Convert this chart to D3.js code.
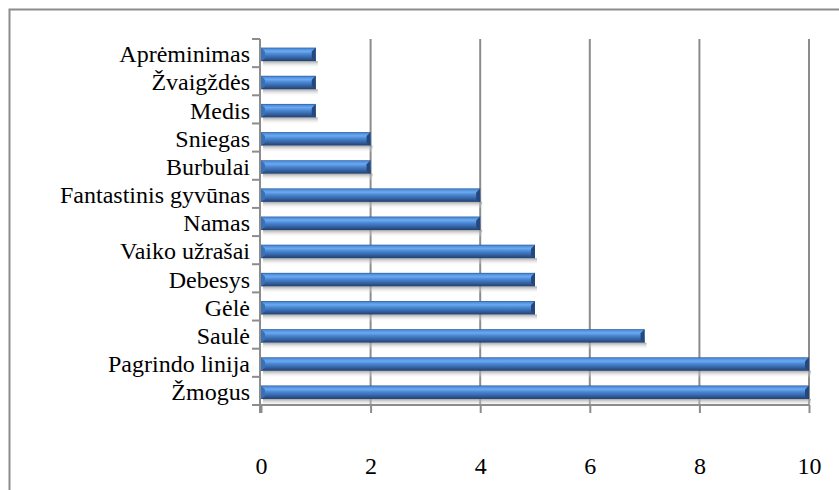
<!DOCTYPE html>
<html>
<head>
<meta charset="utf-8">
<script src="https://cdn.jsdelivr.net/npm/d3@7"></script>
<style>
  body { margin: 0; background: #fff; }
</style>
</head>
<body>
<script>
// categories top to bottom, as in the chart
var categories = ["Aprėminimas", "Žvaigždės", "Medis", "Sniegas", "Burbulai",
  "Fantastinis gyvūnas", "Namas", "Vaiko užrašai", "Debesys", "Gėlė", "Saulė",
  "Pagrindo linija", "Žmogus"];
var values = [1, 1, 1, 2, 2, 4, 4, 5, 5, 5, 7, 10, 10];
var xTicks = [0, 2, 4, 6, 8, 10];

var font = "'Liberation Serif'";
var width = 839, height = 490;
var margin = {top: 39, left: 261, right: 30, bottom: 85};
var bar_shift = 1.3;

var svg = d3.select("body").append("svg")
    .attr("width", width)
    .attr("height", height);

// outer frame
svg.append("rect")
    .attr("x", 9.5).attr("y", 9.5)
    .attr("width", 840).attr("height", 490)
    .attr("fill", "none")
    .attr("stroke", "#8c8c8c")
    .attr("stroke-width", 2);

var x_scale = d3.scaleLinear().domain([0, 10]).range([margin.left, width - margin.right]);
var y_scale = d3.scaleBand().domain(categories)
    .range([margin.top, height - margin.bottom])
    .paddingInner(0.52).paddingOuter(0.26);

var defs = svg.append("defs");
var grad = defs.append("linearGradient")
    .attr("id", "barGrad")
    .attr("x1", 0).attr("y1", 0).attr("x2", 0).attr("y2", 1);
grad.append("stop").attr("offset", "0%").attr("stop-color", "#2c5a96");
grad.append("stop").attr("offset", "10%").attr("stop-color", "#4f8fdc");
grad.append("stop").attr("offset", "28%").attr("stop-color", "#6aaaf2");
grad.append("stop").attr("offset", "48%").attr("stop-color", "#4a86d2");
grad.append("stop").attr("offset", "68%").attr("stop-color", "#3a6cb0");
grad.append("stop").attr("offset", "100%").attr("stop-color", "#223f6e");

var shadowGrad = defs.append("linearGradient")
    .attr("id", "shadowGrad")
    .attr("x1", 0).attr("y1", 0).attr("x2", 0).attr("y2", 1);
shadowGrad.append("stop").attr("offset", "0%").attr("stop-color", "#9a9a9a").attr("stop-opacity", 0.85);
shadowGrad.append("stop").attr("offset", "100%").attr("stop-color", "#ffffff").attr("stop-opacity", 0);

var plotBottom = height - margin.bottom;

function barY(d) { return y_scale(d) + bar_shift; }

// vertical gridlines
svg.append("g").selectAll("line")
    .data(xTicks.slice(1))
    .enter().append("line")
    .attr("x1", function(d) { return x_scale(d); })
    .attr("x2", function(d) { return x_scale(d); })
    .attr("y1", margin.top)
    .attr("y2", plotBottom)
    .attr("stroke", "#8c8c8c")
    .attr("stroke-width", 2);

// shadows under bars
svg.append("g").selectAll("rect")
    .data(categories)
    .enter().append("rect")
    .attr("x", x_scale(0) + 2)
    .attr("y", function(d) { return barY(d) + y_scale.bandwidth(); })
    .attr("width", function(d, i) { return x_scale(values[i]) - x_scale(0); })
    .attr("height", 7)
    .attr("fill", "url(#shadowGrad)");

// bars
var bars = svg.append("g");
bars.selectAll(".bar")
    .data(categories)
    .enter().append("rect")
    .attr("class", "bar")
    .attr("x", x_scale(0))
    .attr("y", barY)
    .attr("width", function(d, i) { return x_scale(values[i]) - x_scale(0); })
    .attr("height", y_scale.bandwidth())
    .attr("fill", "url(#barGrad)");

// bevelled right end
bars.selectAll(".cap")
    .data(categories)
    .enter().append("path")
    .attr("class", "cap")
    .attr("d", function(d, i) {
      var x1 = x_scale(values[i]), y0 = barY(d), h = y_scale.bandwidth();
      return "M" + x1 + "," + y0 + "L" + (x1 - 4) + "," + (y0 + 4) +
        "L" + (x1 - 4) + "," + (y0 + h - 3) + "L" + x1 + "," + (y0 + h) + "Z";
    })
    .attr("fill", "#24487e");

// bevelled left start
bars.selectAll(".lcap")
    .data(categories)
    .enter().append("path")
    .attr("class", "lcap")
    .attr("d", function(d) {
      var x0 = x_scale(0), y0 = barY(d), h = y_scale.bandwidth();
      return "M" + x0 + "," + y0 + "L" + (x0 + 4) + "," + (y0 + 4) +
        "L" + (x0 + 4) + "," + (y0 + h - 3) + "L" + x0 + "," + (y0 + h) + "Z";
    })
    .attr("fill", "#3a70b6");

// bottom axis
var xAxis = svg.append("g")
    .attr("transform", "translate(0," + plotBottom + ")")
    .call(d3.axisBottom(x_scale).tickValues(xTicks).tickSize(8).tickPadding(44));
xAxis.select(".domain").attr("stroke", "#8c8c8c").attr("stroke-width", 2)
    .attr("d", "M" + x_scale(0) + ",0H" + x_scale(10));
xAxis.selectAll(".tick line").attr("stroke", "#8c8c8c").attr("stroke-width", 2);
xAxis.selectAll(".tick text")
    .attr("fill", "#000")
    .style("font-family", font)
    .style("font-size", "24px");

// left axis line with ticks between categories
var yAxis = svg.append("g");
yAxis.append("line")
    .attr("x1", x_scale(0) - 1).attr("x2", x_scale(0) - 1)
    .attr("y1", margin.top).attr("y2", plotBottom + 8)
    .attr("stroke", "#8c8c8c").attr("stroke-width", 2);
var step = y_scale.step();
var boundaries = d3.range(categories.length + 1).map(function(i) { return margin.top + i * step; });
yAxis.selectAll(".ytick")
    .data(boundaries)
    .enter().append("line")
    .attr("class", "ytick")
    .attr("x1", x_scale(0) - 9).attr("x2", x_scale(0) - 1)
    .attr("y1", function(d) { return d; })
    .attr("y2", function(d) { return d; })
    .attr("stroke", "#8c8c8c").attr("stroke-width", 2);

yAxis.selectAll(".ylabel")
    .data(categories)
    .enter().append("text")
    .attr("class", "ylabel")
    .attr("x", x_scale(0) - 11)
    .attr("y", function(d) { return barY(d) + y_scale.bandwidth() / 2; })
    .attr("dy", "0.33em")
    .attr("text-anchor", "end")
    .attr("fill", "#000")
    .style("font-family", font)
    .style("font-size", "24px")
    .text(function(d) { return d; });
</script>
</body>
</html>
